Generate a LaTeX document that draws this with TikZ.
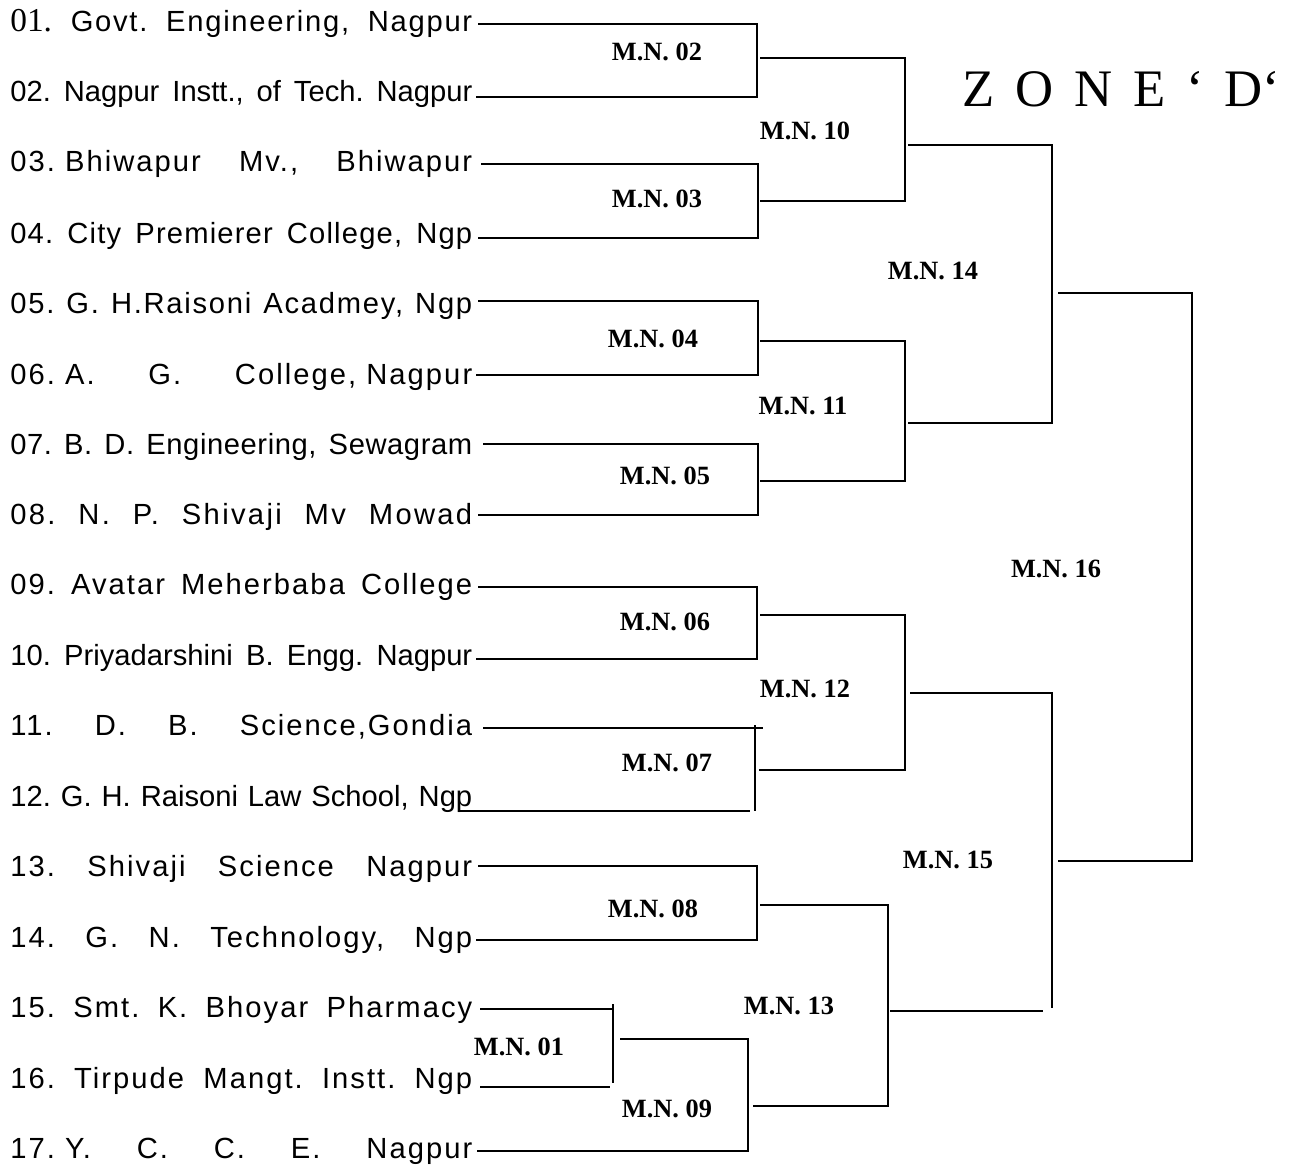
\documentclass[tikz,border=0pt]{standalone}
\usepackage{fontspec}
\setmainfont{Liberation Serif}
\setsansfont{Liberation Sans}
\usepackage{tikz}
\frenchspacing
\newcommand{\drawbar}{\draw[line width=1.6pt]}
\newcommand{\teamname}[4]{\node[anchor=base west,inner sep=0pt,font=\sffamily\fontsize{16.6}{16.6}\selectfont] (t#1) at (10,#4) {\addfontfeature{LetterSpace=#2}\makebox[9.24cm][s]{#3}};}
\newcommand{\matchno}[3]{\node[font=\bfseries\fontsize{15}{15}\selectfont] (m#1) at (#2,#3) {M.N. #1};}

\begin{document}
\begin{tikzpicture}[x=0.02cm,y=-0.02cm]
\useasboundingbox (0,0) rectangle (1291,1166);
\teamname{01}{6}{{\rmfamily\fontsize{19}{19}\selectfont 01.} Govt. Engineering, Nagpur}{32}
\teamname{02}{0}{02. Nagpur Instt., of Tech. Nagpur}{102}
\teamname{03}{7}{03. Bhiwapur\hfill Mv.,\hfill Bhiwapur}{172}
\teamname{04}{4}{04. City Premierer College, Ngp}{243}
\teamname{05}{6}{05. G. H.Raisoni Acadmey, Ngp}{313}
\teamname{06}{7}{06. A.\hfill G.\hfill College, Nagpur}{384}
\teamname{07}{2}{07. B. D. Engineering, Sewagram}{454}
\teamname{08}{8}{08. N. P. Shivaji Mv Mowad}{524}
\teamname{09}{7}{09. Avatar Meherbaba College}{594}
\teamname{10}{0}{10. Priyadarshini B. Engg. Nagpur}{665}
\teamname{11}{7}{11.\hfill D.\hfill B.\hfill Science,Gondia}{735}
\teamname{12}{0}{12. G. H. Raisoni Law School, Ngp}{806}
\teamname{13}{7}{13.\hfill Shivaji\hfill Science\hfill Nagpur}{876}
\teamname{14}{7}{14.\hfill G.\hfill N.\hfill Technology,\hfill Ngp}{947}
\teamname{15}{7}{15. Smt. K. Bhoyar Pharmacy}{1017}
\teamname{16}{7}{16. Tirpude Mangt. Instt. Ngp}{1088}
\teamname{17}{7}{17. Y.\hfill C.\hfill C.\hfill E.\hfill Nagpur}{1158}
% first round
\drawbar (478,24)--(757,24)--(757,97)--(476,97);
\drawbar (481,164)--(758,164)--(758,238)--(478,238);
\drawbar (478,301)--(758,301)--(758,375)--(476,375);
\drawbar (483,444)--(758,444)--(758,515)--(478,515);
\drawbar (478,587)--(757,587)--(757,659)--(476,659);
\drawbar (483,728)--(763,728);
\drawbar (755,725)--(755,811);
\drawbar (458,811)--(750,811);
\drawbar (478,866)--(757,866)--(757,940)--(476,940);
\drawbar (480,1009)--(613,1009);
\drawbar (613,1004)--(613,1083);
\drawbar (480,1087)--(610,1087);
% second round
\drawbar (760,58)--(905,58)--(905,201)--(760,201);
\drawbar (760,341)--(905,341)--(905,481)--(760,481);
\drawbar (760,615)--(905,615)--(905,770)--(759,770);
\drawbar (620,1039)--(748,1039)--(748,1151)--(477,1151);
\drawbar (760,905)--(888,905)--(888,1106)--(753,1106);
% third round
\drawbar (908,145)--(1052,145)--(1052,423)--(908,423);
\drawbar (910,693)--(1052,693)--(1052,1008);
\drawbar (890,1011)--(1043,1011);
% final
\drawbar (1058,293)--(1192,293)--(1192,861)--(1058,861);
\matchno{02}{657}{52}
\matchno{03}{657}{199}
\matchno{04}{653}{339}
\matchno{05}{665}{476}
\matchno{06}{665}{622}
\matchno{07}{667}{763}
\matchno{08}{653}{909}
\matchno{01}{519}{1047}
\matchno{09}{667}{1109}
\matchno{10}{805}{131}
\matchno{11}{803}{406}
\matchno{12}{805}{689}
\matchno{13}{789}{1006}
\matchno{14}{933}{271}
\matchno{15}{948}{860}
\matchno{16}{1056}{569}
\node[anchor=base west,inner sep=0pt,font=\fontsize{30}{30}\selectfont] (zone) at (962,107) {\makebox[6.36cm][s]{Z O N E ‘ D‘}};
\end{tikzpicture}
\end{document}
